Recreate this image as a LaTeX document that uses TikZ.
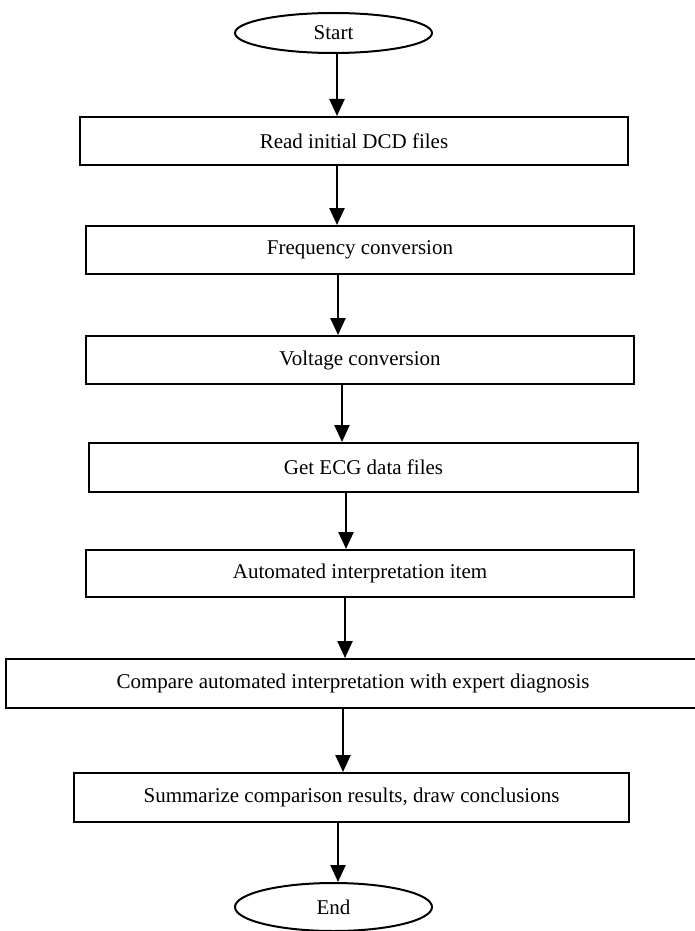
\documentclass[tikz,border=0pt]{standalone}
\usepackage{fontspec}
\setmainfont{Liberation Serif}
\usetikzlibrary{arrows.meta,positioning,shapes.geometric,calc}

\begin{document}
\begin{tikzpicture}[x=1pt,y=-1pt,
  stepbox/.style={draw,line width=2pt,inner sep=0pt,minimum height=48pt,
    font=\fontsize{21}{25}\selectfont},
  terminal/.style={draw,ellipse,line width=2pt,inner sep=0pt,minimum width=197pt,
    font=\fontsize{21}{25}\selectfont},
  flow/.style={line width=2.5pt,-{Triangle[length=17pt,width=15pt]}}
]
  \useasboundingbox (0,0) rectangle (694,931);

  % Start and steps
  \node[terminal,minimum height=40pt] (start) at (333.5,33) {Start};
  \node[stepbox,minimum width=548pt] (read) at (354,141) {Read initial DCD files};
  \node[stepbox,minimum width=548pt] (freq) at (360,250) {Frequency conversion};
  \node[stepbox,minimum width=548pt] (volt) at (360,360) {Voltage conversion};
  \node[stepbox,minimum width=549pt,minimum height=49pt] (ecg) at (363.5,467.5) {Get ECG data files};
  \node[stepbox,minimum width=548pt,minimum height=47pt] (auto) at (360,573.5) {Automated interpretation item};
  \node[stepbox,minimum width=694pt,minimum height=49pt] (cmp) at (353,683.5) {Compare automated interpretation with expert diagnosis};
  \node[stepbox,minimum width=555pt,minimum height=49pt] (sum) at (351.5,797.5) {Summarize comparison results, draw conclusions};
  \node[terminal,minimum height=48pt] (end) at (333.5,907) {End};

  % Arrows
  \draw[flow] ([xshift=3.5pt]start.south) -- ([xshift=3.5pt]start.south |- read.north);
  \draw[flow] ([xshift=-17pt]read.south) -- ([xshift=-17pt]read.south |- freq.north);
  \draw[flow] ([xshift=-22pt]freq.south) -- ([xshift=-22pt]freq.south |- volt.north);
  \draw[flow] ([xshift=-18pt]volt.south) -- ([xshift=-18pt]volt.south |- ecg.north);
  \draw[flow] ([xshift=-17.5pt]ecg.south) -- ([xshift=-17.5pt]ecg.south |- auto.north);
  \draw[flow] ([xshift=-15pt]auto.south) -- ([xshift=-15pt]auto.south |- cmp.north);
  \draw[flow] ([xshift=-10pt]cmp.south) -- ([xshift=-10pt]cmp.south |- sum.north);
  \draw[flow] ([xshift=-13.5pt]sum.south) -- ([xshift=-13.5pt]sum.south |- end.north);
\end{tikzpicture}
\end{document}
